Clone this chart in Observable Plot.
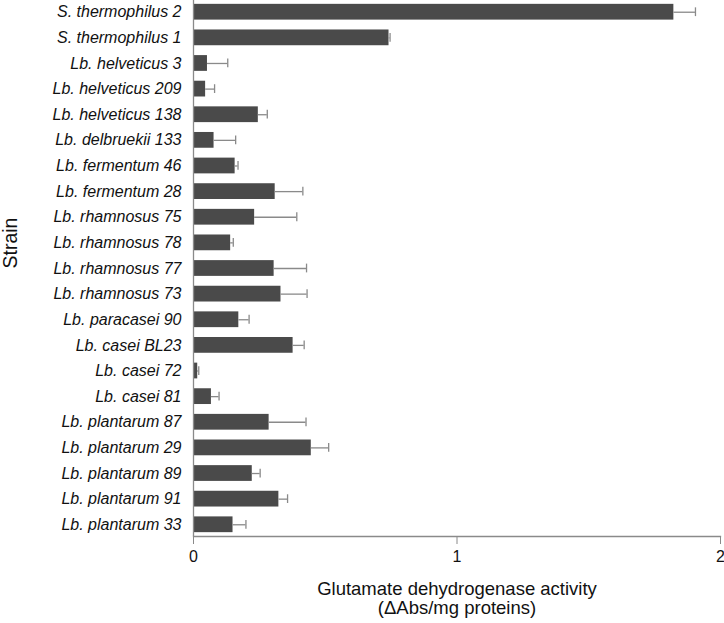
<!DOCTYPE html>
<html>
<head>
<meta charset="utf-8">
<script src="https://cdn.jsdelivr.net/npm/d3@7"></script>
<script src="https://cdn.jsdelivr.net/npm/@observablehq/plot@0.6"></script>
<style>
  html, body { margin: 0; padding: 0; background: #fff; }
</style>
</head>
<body>
<div id="chart"></div>
<script>
const strains = [
  "S. thermophilus 2", "S. thermophilus 1", "Lb. helveticus 3", "Lb. helveticus 209",
  "Lb. helveticus 138", "Lb. delbruekii 133", "Lb. fermentum 46", "Lb. fermentum 28",
  "Lb. rhamnosus 75", "Lb. rhamnosus 78", "Lb. rhamnosus 77", "Lb. rhamnosus 73",
  "Lb. paracasei 90", "Lb. casei BL23", "Lb. casei 72", "Lb. casei 81",
  "Lb. plantarum 87", "Lb. plantarum 29", "Lb. plantarum 89", "Lb. plantarum 91",
  "Lb. plantarum 33"
];
const activity = [
  1.823, 0.742, 0.053, 0.046, 0.246, 0.078, 0.158, 0.310,
  0.232, 0.141, 0.306, 0.332, 0.172, 0.378, 0.016, 0.068,
  0.287, 0.447, 0.223, 0.324, 0.150
];
const errors = [
  0.082, 0.004, 0.077, 0.034, 0.034, 0.082, 0.011, 0.105,
  0.160, 0.010, 0.123, 0.099, 0.039, 0.042, 0.004, 0.029,
  0.140, 0.066, 0.030, 0.033, 0.049
];
const xTicks = [0, 1, 2];
const xTitle = "Glutamate dehydrogenase activity\n(\u0394Abs/mg proteins)";
const yTitle = "Strain";

const data = strains.map((s, i) => ({strain: s, value: activity[i], err: errors[i]}));

const axisGrey = "#8a8a8a";

const chart = Plot.plot({
  width: 724,
  height: 623,
  marginLeft: 193,
  marginRight: 4,
  marginTop: 0,
  marginBottom: 87,
  style: {fontFamily: "'Liberation Sans', Arial, sans-serif", fontSize: "16px", color: "#111", background: "#fff"},
  x: {domain: [0, 2], label: null},
  y: {domain: strains, paddingInner: 0.385, paddingOuter: 0.15, round: false, label: null},
  marks: [
    Plot.barX(data, {x: "value", y: "strain", fill: "#4a4a4a"}),
    Plot.ruleY(data, {y: "strain", x1: "value", x2: d => d.value + d.err, stroke: axisGrey, strokeWidth: 1.3}),
    Plot.tickX(data, {x: d => d.value + d.err, y: "strain", stroke: axisGrey, strokeWidth: 1.3, insetTop: 3.5, insetBottom: 3.5}),
    Plot.ruleX([0], {stroke: axisGrey, strokeWidth: 1.3}),
    Plot.frame({anchor: "bottom", stroke: axisGrey, strokeWidth: 1.3}),
    Plot.axisX({ticks: xTicks, tickFormat: d3.format("d"), tickSize: 8, tickPadding: 6, stroke: axisGrey, fontSize: 16, label: null}),
    Plot.axisY({tickSize: 0, tickPadding: 12, fontStyle: "italic", fontSize: 16, label: null}),
    Plot.text([xTitle], {text: d => d, frameAnchor: "bottom", lineAnchor: "middle", dy: 62, fontSize: 18.5, lineHeight: 1.03}),
    Plot.text([yTitle], {text: d => d, frameAnchor: "left", dx: -183, rotate: -90, fontSize: 19.5})
  ]
});

document.getElementById("chart").appendChild(chart);
</script>
</body>
</html>
